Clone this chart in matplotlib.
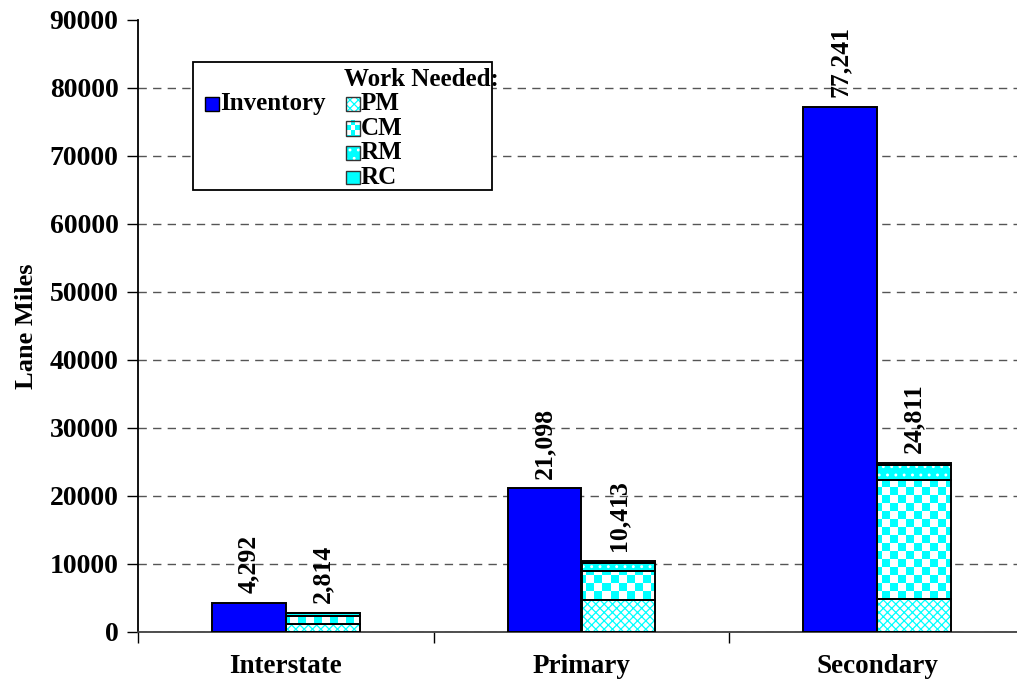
import math

import matplotlib
matplotlib.use("Agg")
import matplotlib.pyplot as plt
import numpy as np
from matplotlib.colors import ListedColormap
from matplotlib.patches import Rectangle

CATEGORIES = ["Interstate", "Primary", "Secondary"]
INVENTORY = [4292, 21098, 77241]
# work needed, stacked bottom -> top
PM = [1100, 4600, 4770]
CM = [1200, 4300, 17530]
RM = [400, 1170, 2300]
RC = [114, 343, 211]
WORK_NAMES = ["PM", "CM", "RM", "RC"]
Y_TICKS = list(range(0, 90001, 10000))

W, H = 1017, 688
FONT = ["Liberation Serif", "DejaVu Serif"]
FS_TICK = 20
FS_CAT = 19.5
FS_VAL = 18.5
FS_LEG = 18
BAR_W = 0.25
CYAN = "#00ffff"
BLUE = "#0000ff"

plt.rcParams["font.family"] = FONT
plt.rcParams["font.weight"] = "bold"
plt.rcParams["hatch.linewidth"] = 0.9

fig = plt.figure(figsize=(W / 100, H / 100), dpi=100)
ax = fig.add_axes([138 / W, (H - 631.7) / H, (1025 - 138) / W, 611.7 / H])
ax.set_xlim(-0.5, 2.5)
ax.set_ylim(0, 90000)

# pixel size in data units (axes is fixed, so this is stable)
DX = 3 / 887
DY = 90000 / 611.7
CHECK_PX = 8

checker_cmap = ListedColormap(["white", CYAN])


def checker_image(x0, y0, w_px, h_px, cell_px, clip=None):
    ncol = math.ceil(w_px / cell_px)
    nrow = math.ceil(h_px / cell_px)
    grid = (np.add.outer(np.arange(nrow), np.arange(ncol)) % 2).astype(float)
    im = ax.imshow(
        grid, cmap=checker_cmap, vmin=0, vmax=1, interpolation="nearest",
        aspect="auto", origin="lower", zorder=2,
        extent=(x0, x0 + ncol * cell_px * DX, y0, y0 + nrow * cell_px * DY),
    )
    if clip is not None:
        im.set_clip_path(clip)
    return im


STYLE = {
    "PM": dict(color="white", edgecolor=CYAN, hatch="xxxx"),
    "CM": dict(color=CYAN, edgecolor=CYAN, hatch=None),
    "RM": dict(color=CYAN, edgecolor="white", hatch=".."),
    "RC": dict(color=CYAN, edgecolor=CYAN, hatch=None),
}


def draw_segment(x, bottom, height, name):
    st = STYLE[name]
    bars = ax.bar(x, height, BAR_W, bottom=bottom, color=st["color"],
                  edgecolor=st["edgecolor"], hatch=st["hatch"], linewidth=0,
                  zorder=2)
    if name == "CM":
        checker_image(-0.5, 0, 887, 612, CHECK_PX, clip=bars[0])
    ax.bar(x, height, BAR_W, bottom=bottom, fill=False, edgecolor="black",
           linewidth=1.4, zorder=3)


x = np.arange(len(CATEGORIES))
ax.bar(x - BAR_W / 2, INVENTORY, BAR_W, color=BLUE, edgecolor="black",
       linewidth=1.4, zorder=3)

work = [PM, CM, RM, RC]
bottoms = np.zeros(len(CATEGORIES))
for name, vals in zip(WORK_NAMES, work):
    for i, v in enumerate(vals):
        draw_segment(x[i] + BAR_W / 2, bottoms[i], v, name)
    bottoms += np.array(vals)

for i in range(len(CATEGORIES)):
    for xx, val in ((x[i] - BAR_W / 2, INVENTORY[i]), (x[i] + BAR_W / 2, int(bottoms[i]))):
        ax.annotate(f"{val:,}", (xx, val), xytext=(0, 7), textcoords="offset points",
                    rotation=90, ha="center", va="bottom", fontsize=FS_VAL,
                    fontweight="bold")

# axes styling
ax.set_yticks(Y_TICKS)
ax.set_yticklabels([str(t) for t in Y_TICKS], fontsize=FS_TICK, fontweight="bold")
ax.tick_params(axis="y", direction="out", length=8, width=1, pad=6)
ax.set_xticks(x)
ax.set_xticklabels(CATEGORIES, fontsize=FS_CAT, fontweight="bold")
ax.set_xticks(np.arange(-0.5, len(CATEGORIES)), minor=True)
ax.tick_params(axis="x", which="major", length=0, pad=16)
ax.tick_params(axis="x", which="minor", length=8, width=1, direction="out")
for s in ("top", "right"):
    ax.spines[s].set_visible(False)
ax.spines["left"].set_linewidth(1.3)
ax.spines["bottom"].set_linewidth(1.3)
ax.spines["bottom"].set_color("#404040")

ax.set_axisbelow(True)
ax.yaxis.grid(True, color="#555555", linestyle=(0, (6, 4.5)), linewidth=1)
ax.get_ygridlines()[-1].set_visible(False)

ax.set_ylabel("Lane Miles", fontsize=19, fontweight="bold")
ax.yaxis.set_label_coords(-(138 - 38) / 887, 0.5)


# legend drawn by hand (pixel positions, top-left origin)
def to_data(px, py):
    return ax.transData.inverted().transform((px, H - py))


def legend_patch(px, py, name):
    x0, y1 = to_data(px, py)
    x1, y0 = to_data(px + 14, py + 14)
    if name == "INV":
        ax.add_patch(Rectangle((x0, y0), x1 - x0, y1 - y0, facecolor=BLUE,
                               edgecolor="black", linewidth=1, zorder=6))
        return
    st = STYLE[name]
    ax.add_patch(Rectangle((x0, y0), x1 - x0, y1 - y0, facecolor=st["color"],
                           edgecolor=st["edgecolor"], hatch=st["hatch"],
                           linewidth=0, zorder=6))
    if name == "CM":
        im = checker_image(x0, y0, 14, 14, 4.7)
        im.set_zorder(6)
        im.set_extent((x0, x1, y0, y1))
    ax.add_patch(Rectangle((x0, y0), x1 - x0, y1 - y0, fill=False,
                           edgecolor="#333333", linewidth=1, zorder=7))


lx0, ly1 = to_data(193, 62)
lx1, ly0 = to_data(492, 190)
ax.add_patch(Rectangle((lx0, ly0), lx1 - lx0, ly1 - ly0, facecolor="white",
                       edgecolor="black", linewidth=1.3, zorder=5))

tx, ty = to_data(344, 80)
ax.text(tx, ty, "Work Needed:", fontsize=FS_LEG, fontweight="bold",
        va="center", ha="left", zorder=8)
legend_patch(205, 97, "INV")
tx, ty = to_data(220, 104)
ax.text(tx, ty, "Inventory", fontsize=FS_LEG, fontweight="bold", va="center",
        ha="left", zorder=8)
for k, name in enumerate(WORK_NAMES):
    cy = 104 + k * 24.5
    legend_patch(346, cy - 7, name)
    tx, ty = to_data(361, cy)
    ax.text(tx, ty, name, fontsize=FS_LEG, fontweight="bold", va="center",
            ha="left", zorder=8)

ax.set_xlim(-0.5, 2.5)
ax.set_ylim(0, 90000)

fig.savefig("out.png", dpi=100, facecolor="white")
